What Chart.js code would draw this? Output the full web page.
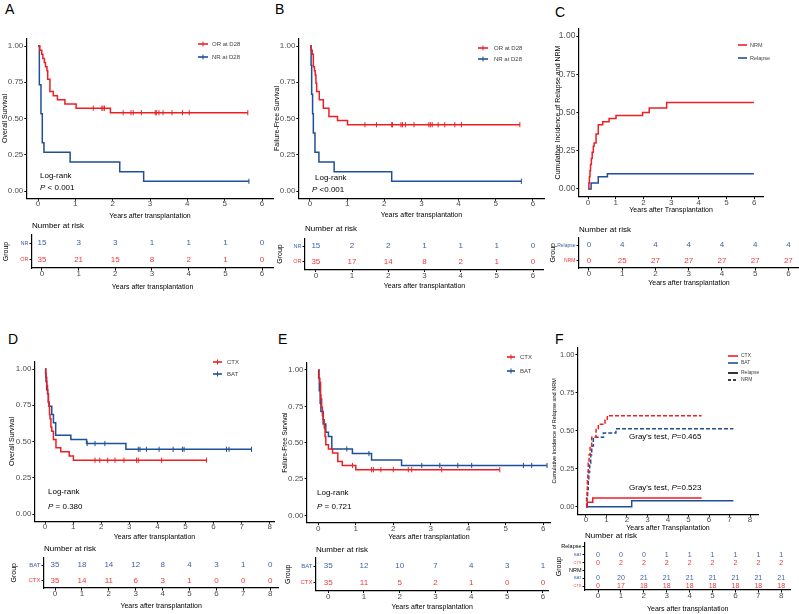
<!DOCTYPE html>
<html lang="en">
<head>
<meta charset="UTF-8">
<title>Survival and cumulative incidence after transplantation</title>
<script src="https://cdn.jsdelivr.net/npm/chart.js"></script>
<style>
  body { margin: 0; background: #fff; }
  #page { position: relative; width: 799px; height: 614px; overflow: hidden; font-family: 'Liberation Sans', Arial, sans-serif; }
  #page canvas { position: absolute; left: 0; top: 0; }
  .tag { position: absolute; font-size: 14px; line-height: 14px; color: #000; }
</style>
</head>
<body>
<div id="page">
  <div class="tag" style="left:5px;top:2px">A</div>
  <div class="tag" style="left:275px;top:2px">B</div>
  <div class="tag" style="left:555px;top:5px">C</div>
  <div class="tag" style="left:8px;top:332px">D</div>
  <div class="tag" style="left:278px;top:332px">E</div>
  <div class="tag" style="left:555px;top:332px">F</div>
  <canvas id="kmA" width="799" height="614"></canvas>
  <canvas id="kmB" width="799" height="614"></canvas>
  <canvas id="kmC" width="799" height="614"></canvas>
  <canvas id="kmD" width="799" height="614"></canvas>
  <canvas id="kmE" width="799" height="614"></canvas>
  <canvas id="kmF" width="799" height="614"></canvas>
  <canvas id="rtA" width="799" height="614"></canvas>
  <canvas id="rtB" width="799" height="614"></canvas>
  <canvas id="rtC" width="799" height="614"></canvas>
  <canvas id="rtD" width="799" height="614"></canvas>
  <canvas id="rtE" width="799" height="614"></canvas>
  <canvas id="rtF" width="799" height="614"></canvas>
</div>
<script>
// ---------- data ----------
const years6 = [0, 1, 2, 3, 4, 5, 6];
const years8 = [0, 1, 2, 3, 4, 5, 6, 7, 8];
const probTicks = [0, 0.25, 0.5, 0.75, 1];

// A: overall survival by response at D28
const A_groups = ['OR at D28', 'NR at D28'];
const A_OR_t = [0, 0.05, 0.1, 0.13, 0.17, 0.2, 0.24, 0.26, 0.32, 0.41, 0.52, 0.72, 1.02, 1.94, 5.62];
const A_OR_s = [1, 0.971, 0.943, 0.914, 0.886, 0.857, 0.829, 0.771, 0.686, 0.657, 0.629, 0.6, 0.571, 0.54, 0.54];
const A_OR_cens = [1.48, 1.71, 1.74, 1.78, 2.28, 2.49, 2.55, 2.77, 3.14, 3.17, 3.24, 3.35, 3.59, 3.87, 4.05, 5.62];
const A_NR_t = [0, 0.036, 0.08, 0.115, 0.16, 0.86, 2.19, 2.83, 5.65];
const A_NR_s = [1, 0.733, 0.533, 0.333, 0.267, 0.2, 0.133, 0.067, 0.067];
const A_NR_cens = [5.65];
const A_riskLabels = ['NR', 'OR'];
const A_risk_NR = [15, 3, 3, 1, 1, 1, 0];
const A_risk_OR = [35, 21, 15, 8, 2, 1, 0];

// B: failure-free survival by response at D28
const B_OR_t = [0, 0.03, 0.06, 0.09, 0.12, 0.14, 0.16, 0.18, 0.25, 0.36, 0.51, 0.74, 1.01, 5.65];
const B_OR_s = [1, 0.971, 0.943, 0.857, 0.829, 0.8, 0.743, 0.686, 0.629, 0.571, 0.514, 0.486, 0.457, 0.457];
const B_OR_cens = [1.48, 1.79, 2.2, 2.22, 2.45, 2.49, 2.57, 2.8, 3.2, 3.24, 3.29, 3.45, 3.63, 3.9, 4.08, 5.65];
const B_NR_t = [0, 0.03, 0.045, 0.07, 0.09, 0.134, 0.24, 0.65, 2.2, 5.69];
const B_NR_s = [1, 0.867, 0.667, 0.533, 0.4, 0.267, 0.2, 0.133, 0.067, 0.067];
const B_NR_cens = [5.69];
const B_risk_NR = [15, 2, 2, 1, 1, 1, 0];
const B_risk_OR = [35, 17, 14, 8, 2, 1, 0];

// C: cumulative incidence of relapse and NRM
const C_groups = ['NRM', 'Relapse'];
const C_NRM_t = [0, 0.03, 0.05, 0.07, 0.09, 0.12, 0.15, 0.19, 0.22, 0.29, 0.37, 0.53, 0.76, 1.01, 1.97, 2.21, 2.84, 5.99];
const C_NRM_v = [0, 0.04, 0.08, 0.12, 0.16, 0.2, 0.24, 0.28, 0.3, 0.36, 0.42, 0.44, 0.46, 0.48, 0.5, 0.53, 0.565, 0.565];
const C_REL_t = [0, 0.11, 0.37, 0.7, 5.99];
const C_REL_v = [0, 0.04, 0.08, 0.1, 0.1];
const C_riskLabels = ['Relapse', 'NRM'];
const C_risk_REL = [0, 4, 4, 4, 4, 4, 4];
const C_risk_NRM = [0, 25, 27, 27, 27, 27, 27];

// D: overall survival by conditioning
const D_groups = ['CTX', 'BAT'];
const D_CTX_t = [0, 0.03, 0.06, 0.09, 0.12, 0.14, 0.16, 0.18, 0.21, 0.24, 0.3, 0.39, 0.56, 0.86, 1.01, 5.75];
const D_CTX_s = [1, 0.943, 0.886, 0.829, 0.771, 0.743, 0.686, 0.657, 0.6, 0.571, 0.514, 0.457, 0.429, 0.4, 0.371, 0.371];
const D_CTX_cens = [1.78, 1.95, 2.23, 2.49, 2.81, 3.26, 3.32, 4.15, 5.75];
const D_BAT_t = [0, 0.02, 0.035, 0.06, 0.095, 0.12, 0.15, 0.24, 0.3, 0.38, 0.92, 1.48, 2.88, 7.35];
const D_BAT_s = [1, 0.971, 0.914, 0.857, 0.829, 0.771, 0.743, 0.686, 0.629, 0.543, 0.514, 0.486, 0.446, 0.446];
const D_BAT_cens = [1.5, 1.78, 2.13, 3.32, 3.38, 3.61, 4.06, 4.56, 4.89, 4.95, 6.46, 6.55, 7.35];
const D_riskLabels = ['BAT', 'CTX'];
const D_risk_BAT = [35, 18, 14, 12, 8, 4, 3, 1, 0];
const D_risk_CTX = [35, 14, 11, 6, 3, 1, 0, 0, 0];

// E: failure-free survival by conditioning
const E_CTX_t = [0, 0.02, 0.04, 0.06, 0.07, 0.09, 0.11, 0.13, 0.16, 0.18, 0.2, 0.27, 0.38, 0.52, 0.64, 1.0, 4.84];
const E_CTX_s = [1, 0.943, 0.914, 0.829, 0.8, 0.743, 0.686, 0.657, 0.6, 0.543, 0.486, 0.457, 0.429, 0.371, 0.343, 0.314, 0.314];
const E_CTX_cens = [0.91, 1.42, 1.47, 1.67, 2.0, 2.4, 2.49, 3.29, 4.84];
const E_BAT_t = [0, 0.01, 0.027, 0.05, 0.07, 0.13, 0.2, 0.27, 0.36, 0.91, 1.42, 2.22, 6.1];
const E_BAT_s = [1, 0.943, 0.857, 0.771, 0.714, 0.629, 0.571, 0.543, 0.457, 0.425, 0.38, 0.343, 0.343];
const E_BAT_cens = [0.76, 1.35, 2.76, 3.24, 3.72, 4.09, 5.47, 5.69, 6.1];
const E_risk_BAT = [35, 12, 10, 7, 4, 3, 1];
const E_risk_CTX = [35, 11, 5, 2, 1, 0, 0];

// F: relapse / NRM by conditioning
const F_groups = ['CTX', 'BAT', 'Relapse', 'NRM'];
const F_CTX_NRM_t = [0, 0.03, 0.05, 0.07, 0.09, 0.11, 0.15, 0.2, 0.28, 0.49, 0.6, 0.93, 1.04, 5.64];
const F_CTX_NRM_v = [0, 0.057, 0.114, 0.171, 0.229, 0.286, 0.343, 0.4, 0.457, 0.514, 0.543, 0.571, 0.6, 0.6];
const F_BAT_NRM_t = [0, 0.05, 0.08, 0.11, 0.14, 0.18, 0.23, 0.28, 0.36, 0.85, 1.46, 7.19];
const F_BAT_NRM_v = [0, 0.057, 0.114, 0.171, 0.229, 0.286, 0.343, 0.4, 0.457, 0.486, 0.514, 0.514];
const F_CTX_REL_t = [0, 0.06, 0.33, 5.64];
const F_CTX_REL_v = [0, 0.029, 0.057, 0.057];
const F_BAT_REL_t = [0, 2.23, 7.19];
const F_BAT_REL_v = [0, 0.04, 0.04];
const F_riskLabels = ['Relapse', 'BAT', 'CTX', 'NRM', 'BAT', 'CTX'];
const F_risk_REL_BAT = [0, 0, 0, 1, 1, 1, 1, 1, 1];
const F_risk_REL_CTX = [0, 2, 2, 2, 2, 2, 2, 2, 2];
const F_risk_NRM_BAT = [0, 20, 21, 21, 21, 21, 21, 21, 21];
const F_risk_NRM_CTX = [0, 17, 18, 18, 18, 18, 18, 18, 18];

// ---------- drawing ----------
const FONT = "'Liberation Sans', Arial, Helvetica, sans-serif";
const RED = '#ED1F24', BLUE = '#1E4F97';
const RED_T = '#EC3A3C', BLUE_T = '#3E63A8';
const GREY = '#4D4D4D';
const W = 799, H = 614;

Chart.defaults.font.family = FONT;
Chart.defaults.animation = false;

function stepAt(t, ts, vs) {
  let v = vs[0];
  for (let i = 0; i < ts.length; i++) if (ts[i] <= t) v = vs[i];
  return v;
}

function pad(a, YW, XH) {
  return { left: a.l - YW, top: a.t, right: W - a.r, bottom: H - a.b - XH };
}

// legend keys and free text (Log-rank, P values, "Number at risk")
const overlay = {
  id: 'overlay',
  afterDraw(chart, args, opts) {
    const ctx = chart.ctx;
    (opts.legend || []).forEach(it => {
      ctx.save();
      ctx.strokeStyle = it.color;
      ctx.lineWidth = 1.6;
      ctx.setLineDash(it.dash || []);
      ctx.beginPath(); ctx.moveTo(it.x, it.y); ctx.lineTo(it.x + it.w, it.y); ctx.stroke();
      if (it.cross) {
        ctx.setLineDash([]); ctx.lineWidth = 1;
        ctx.beginPath(); ctx.moveTo(it.x + it.w / 2, it.y - 2.5); ctx.lineTo(it.x + it.w / 2, it.y + 2.5); ctx.stroke();
      }
      ctx.fillStyle = '#444';
      ctx.font = it.size + 'px ' + FONT;
      ctx.textBaseline = 'middle';
      ctx.fillText(it.text, it.tx, it.y);
      ctx.restore();
    });
    (opts.notes || []).forEach(n => {
      ctx.save();
      ctx.textBaseline = 'middle';
      ctx.fillStyle = n.color || '#000';
      let x = n.x;
      n.parts.forEach(p => {
        ctx.font = (p.i ? 'italic ' : '') + n.size + 'px ' + FONT;
        ctx.fillText(p.t, x, n.y);
        x += ctx.measureText(p.t).width;
      });
      ctx.restore();
    });
  }
};

// numbers at risk, placed through the chart scales
const riskText = {
  id: 'riskText',
  afterDatasetsDraw(chart) {
    const ctx = chart.ctx, xs = chart.scales.x, ys = chart.scales.y;
    chart.data.datasets.forEach(ds => {
      ctx.save();
      ctx.fillStyle = ds.textColor;
      ctx.font = ds.textSize + 'px ' + FONT;
      ctx.textAlign = 'center';
      ctx.textBaseline = 'middle';
      ds.data.forEach(p => ctx.fillText(String(p.n), xs.getPixelForValue(p.x), ys.getPixelForValue(p.y)));
      ctx.restore();
    });
  }
};

function xAxis(o) {
  return {
    type: 'linear', min: o.min, max: o.max,
    afterBuildTicks: s => { s.ticks = o.ticks.map(v => ({ value: v })); },
    afterFit: s => { s.height = o.XH; },
    border: { display: true, color: '#000', width: 1.2 },
    grid: { drawOnChartArea: false, drawTicks: true, tickLength: 2.5, color: '#000', lineWidth: 1 },
    ticks: { color: GREY, font: { size: o.tickSize || 8 }, padding: -1.5, maxRotation: 0, autoSkip: false },
    title: { display: true, text: o.title, color: '#000', font: { size: o.titleSize || 7 }, padding: 0 }
  };
}

function yAxisProb(o) {
  return {
    type: 'linear', min: -0.05, max: 1.05,
    afterBuildTicks: s => { s.ticks = probTicks.map(v => ({ value: v })); },
    afterFit: s => { s.width = o.YW; },
    border: { display: true, color: '#000', width: 1.2 },
    grid: { drawOnChartArea: false, drawTicks: true, tickLength: 2.5, color: '#000', lineWidth: 1 },
    ticks: { color: GREY, font: { size: o.tickSize || 8 }, padding: 1, callback: v => Number(v).toFixed(2) },
    title: { display: true, text: o.title, color: '#000', font: { size: o.titleSize || 7 }, padding: 0 }
  };
}

function kmChart(id, p) {
  const datasets = [];
  p.curves.forEach(c => {
    datasets.push({
      data: c.t.map((t, i) => ({ x: t, y: c.v[i] })),
      borderColor: c.color, borderWidth: 1.5, borderDash: c.dash || [],
      stepped: true, pointRadius: 0, fill: false
    });
    if (c.cens) datasets.push({
      data: c.cens.map(t => ({ x: t, y: stepAt(t, c.t, c.v) })),
      showLine: false, pointStyle: 'line', pointRotation: 90, pointRadius: 2.6,
      pointBorderColor: c.color, pointBorderWidth: 1, borderColor: c.color
    });
  });
  new Chart(document.getElementById(id), {
    type: 'line',
    data: { datasets },
    options: {
      responsive: false, events: [],
      layout: { padding: pad(p.area, p.YW, p.XH) },
      plugins: { legend: { display: false }, tooltip: { enabled: false }, overlay: { legend: p.legend || [], notes: p.notes || [] } },
      scales: {
        x: xAxis({ min: p.xmin, max: p.xmax, ticks: p.xticks, XH: p.XH, title: p.xTitle, tickSize: p.xTickSize }),
        y: yAxisProb({ YW: p.YW, title: p.yTitle, titleSize: p.yTitleSize, tickSize: p.yTickSize })
      }
    },
    plugins: [overlay]
  });
}

function riskChart(id, p) {
  const datasets = p.rows.map(r => ({
    type: 'scatter',
    data: p.xticks.map((t, j) => ({ x: t, y: r.row, n: r.n[j] })),
    pointRadius: 0, textColor: r.color, textSize: p.numSize || 8
  }));
  const idx = p.labels.map((l, i) => i);
  new Chart(document.getElementById(id), {
    type: 'scatter',
    data: { datasets },
    options: {
      responsive: false, events: [],
      layout: { padding: pad(p.area, p.YW, p.XH) },
      plugins: { legend: { display: false }, tooltip: { enabled: false }, overlay: { notes: [{ x: p.area.l, y: p.headY, size: 8, parts: [{ t: 'Number at risk' }] }] } },
      scales: {
        x: xAxis({ min: p.xmin, max: p.xmax, ticks: p.xticks, XH: p.XH, title: 'Years after transplantation' }),
        y: {
          type: 'linear', reverse: true, min: -0.5, max: p.labels.length - 0.5,
          afterBuildTicks: s => { s.ticks = idx.map(v => ({ value: v })); },
          afterFit: s => { s.width = p.YW; },
          border: { display: true, color: '#000', width: 1.2 },
          grid: { drawOnChartArea: false, drawTicks: true, tickLength: 2.5, color: '#000', lineWidth: 1 },
          ticks: {
            padding: 1, autoSkip: false,
            callback: v => p.labels[v],
            color: c => p.labelColors[c.index],
            font: c => ({ size: p.labelSizes[c.index], family: FONT })
          },
          title: { display: true, text: 'Group', color: '#000', font: { size: 7 }, padding: 0 }
        }
      }
    },
    plugins: [overlay, riskText]
  });
}

// ---------- panels ----------
kmChart('kmA', {
  area: { l: 26.8, t: 38.75, r: 273.2, b: 198.25 }, YW: 26, XH: 22,
  xmin: -0.3, xmax: 6.3, xticks: years6,
  xTitle: 'Years after transplantation', yTitle: 'Overall Survival',
  curves: [
    { t: A_OR_t, v: A_OR_s, cens: A_OR_cens, color: RED },
    { t: A_NR_t, v: A_NR_s, cens: A_NR_cens, color: BLUE }
  ],
  legend: [
    { text: A_groups[0], color: RED, x: 198, w: 10, y: 44, tx: 212, size: 6, cross: true },
    { text: A_groups[1], color: BLUE, x: 198, w: 10, y: 57, tx: 212, size: 6, cross: true }
  ],
  notes: [
    { x: 40, y: 176, size: 8, parts: [{ t: 'Log-rank' }] },
    { x: 40, y: 188, size: 8, parts: [{ t: 'P', i: true }, { t: ' < 0.001' }] }
  ]
});

kmChart('kmB', {
  area: { l: 298.85, t: 38.75, r: 544, b: 198.25 }, YW: 26, XH: 21,
  xmin: -0.3, xmax: 6.3, xticks: years6,
  xTitle: 'Years after transplantation', yTitle: 'Failure-Free Survival',
  curves: [
    { t: B_OR_t, v: B_OR_s, cens: B_OR_cens, color: RED },
    { t: B_NR_t, v: B_NR_s, cens: B_NR_cens, color: BLUE }
  ],
  legend: [
    { text: A_groups[0], color: RED, x: 478, w: 10, y: 48, tx: 494, size: 6, cross: true },
    { text: A_groups[1], color: BLUE, x: 478, w: 10, y: 59, tx: 494, size: 6, cross: true }
  ],
  notes: [
    { x: 315, y: 178, size: 8, parts: [{ t: 'Log-rank' }] },
    { x: 312, y: 190, size: 8, parts: [{ t: 'P', i: true }, { t: ' <0.001' }] }
  ]
});

kmChart('kmC', {
  area: { l: 578.9, t: 28.35, r: 763.3, b: 196.65 }, YW: 25.1, XH: 17.55,
  xmin: -0.33, xmax: 6.33, xticks: years6, yTickSize: 8.5,
  xTitle: 'Years after Transplantation', yTitle: 'Cumulative Incidence of Relapse and NRM',
  curves: [
    { t: C_NRM_t, v: C_NRM_v, color: RED },
    { t: C_REL_t, v: C_REL_v, color: BLUE }
  ],
  legend: [
    { text: C_groups[0], color: RED, x: 738, w: 9, y: 45, tx: 750, size: 5.5 },
    { text: C_groups[1], color: BLUE, x: 738, w: 9, y: 58, tx: 750, size: 5.5 }
  ]
});

kmChart('kmD', {
  area: { l: 34.9, t: 361.75, r: 274, b: 521.25 }, YW: 27.1, XH: 19.95,
  xmin: -0.36, xmax: 8.15, xticks: years8,
  xTitle: 'Years after transplantation', yTitle: 'Overall Survival',
  curves: [
    { t: D_CTX_t, v: D_CTX_s, cens: D_CTX_cens, color: RED },
    { t: D_BAT_t, v: D_BAT_s, cens: D_BAT_cens, color: BLUE }
  ],
  legend: [
    { text: D_groups[0], color: RED, x: 213, w: 9, y: 362, tx: 227, size: 6, cross: true },
    { text: D_groups[1], color: BLUE, x: 213, w: 9, y: 374, tx: 227, size: 6, cross: true }
  ],
  notes: [
    { x: 48, y: 492, size: 8, parts: [{ t: 'Log-rank' }] },
    { x: 48, y: 507, size: 8, parts: [{ t: 'P', i: true }, { t: ' = 0.380' }] }
  ]
});

kmChart('kmE', {
  area: { l: 307.05, t: 362.7, r: 550.8, b: 522.6 }, YW: 25.95, XH: 18.3,
  xmin: -0.3, xmax: 6.2, xticks: years6, yTitleSize: 6.5,
  xTitle: 'Years after transplantation', yTitle: 'Failure-Free Survival',
  curves: [
    { t: E_CTX_t, v: E_CTX_s, cens: E_CTX_cens, color: RED },
    { t: E_BAT_t, v: E_BAT_s, cens: E_BAT_cens, color: BLUE }
  ],
  legend: [
    { text: D_groups[0], color: RED, x: 507, w: 8, y: 357, tx: 520, size: 6, cross: true },
    { text: D_groups[1], color: BLUE, x: 507, w: 8, y: 371, tx: 520, size: 6, cross: true }
  ],
  notes: [
    { x: 317, y: 493, size: 8, parts: [{ t: 'Log-rank' }] },
    { x: 317, y: 507, size: 8, parts: [{ t: 'P', i: true }, { t: ' = 0.721' }] }
  ]
});

kmChart('kmF', {
  area: { l: 578, t: 347.4, r: 758, b: 514.3 }, YW: 27.3, XH: 17.9,
  xmin: -0.39, xmax: 8.39, xticks: years8, yTitleSize: 5.5, yTickSize: 7.5,
  xTitle: 'Years after Transplantation', yTitle: 'Cumulative Incidence of Relapse and NRM',
  curves: [
    { t: F_CTX_NRM_t, v: F_CTX_NRM_v, color: RED, dash: [4, 2] },
    { t: F_BAT_NRM_t, v: F_BAT_NRM_v, color: BLUE, dash: [4, 2] },
    { t: F_CTX_REL_t, v: F_CTX_REL_v, color: RED },
    { t: F_BAT_REL_t, v: F_BAT_REL_v, color: BLUE }
  ],
  legend: [
    { text: F_groups[0], color: RED, x: 728, w: 10, y: 356, tx: 741, size: 5 },
    { text: F_groups[1], color: BLUE, x: 728, w: 10, y: 363, tx: 741, size: 5 },
    { text: F_groups[2], color: '#000', x: 728, w: 10, y: 373, tx: 741, size: 5 },
    { text: F_groups[3], color: '#000', x: 728, w: 10, y: 380, tx: 741, size: 5, dash: [3, 2] }
  ],
  notes: [
    { x: 629, y: 437, size: 8, parts: [{ t: "Gray's test, " }, { t: 'P', i: true }, { t: '=0.465' }] },
    { x: 629, y: 488, size: 8, parts: [{ t: "Gray's test, " }, { t: 'P', i: true }, { t: '=0.523' }] }
  ]
});

// ---------- risk tables ----------
riskChart('rtA', {
  area: { l: 32, t: 235, r: 273.1, b: 268 }, YW: 30.2, XH: 23.2, headY: 226,
  xmin: -0.27, xmax: 6.3, xticks: years6,
  labels: A_riskLabels, labelColors: [BLUE_T, RED_T], labelSizes: [5.5, 5.5],
  rows: [{ row: 0, n: A_risk_NR, color: BLUE_T }, { row: 1, n: A_risk_OR, color: RED_T }]
});
riskChart('rtB', {
  area: { l: 305, t: 238.5, r: 543.9, b: 269.5 }, YW: 29.2, XH: 20.7, headY: 229,
  xmin: -0.3, xmax: 6.3, xticks: years6,
  labels: A_riskLabels, labelColors: [BLUE_T, RED_T], labelSizes: [5.5, 5.5],
  rows: [{ row: 0, n: B_risk_NR, color: BLUE_T }, { row: 1, n: B_risk_OR, color: RED_T }]
});
riskChart('rtC', {
  area: { l: 579, t: 237.5, r: 799, b: 268 }, YW: 30.2, XH: 19.2, headY: 230,
  xmin: -0.3, xmax: 6.32, xticks: years6,
  labels: C_riskLabels, labelColors: [BLUE_T, RED_T], labelSizes: [5, 5],
  rows: [{ row: 0, n: C_risk_REL, color: BLUE_T }, { row: 1, n: C_risk_NRM, color: RED_T }]
});
riskChart('rtD', {
  area: { l: 44, t: 557.5, r: 278.3, b: 588 }, YW: 34.2, XH: 22.2, headY: 548.3,
  xmin: -0.41, xmax: 8.3, xticks: years8,
  labels: D_riskLabels, labelColors: [BLUE_T, RED_T], labelSizes: [6, 6],
  rows: [{ row: 0, n: D_risk_BAT, color: BLUE_T }, { row: 1, n: D_risk_CTX, color: RED_T }]
});
riskChart('rtE', {
  area: { l: 316, t: 558, r: 548.3, b: 590.5 }, YW: 32.2, XH: 20.7, headY: 549.3,
  xmin: -0.34, xmax: 6.15, xticks: years6,
  labels: D_riskLabels, labelColors: [BLUE_T, RED_T], labelSizes: [6, 6],
  rows: [{ row: 0, n: E_risk_BAT, color: BLUE_T }, { row: 1, n: E_risk_CTX, color: RED_T }]
});
riskChart('rtF', {
  area: { l: 585, t: 543, r: 790.4, b: 590 }, YW: 30.2, XH: 23.2, headY: 536, numSize: 7,
  xmin: -0.57, xmax: 8.4, xticks: years8,
  labels: F_riskLabels, labelColors: ['#000', BLUE_T, RED_T, '#000', BLUE_T, RED_T], labelSizes: [5.5, 4, 4, 5.5, 4, 4],
  rows: [
    { row: 1, n: F_risk_REL_BAT, color: BLUE_T },
    { row: 2, n: F_risk_REL_CTX, color: RED_T },
    { row: 4, n: F_risk_NRM_BAT, color: BLUE_T },
    { row: 5, n: F_risk_NRM_CTX, color: RED_T }
  ]
});
</script>
</body>
</html>
